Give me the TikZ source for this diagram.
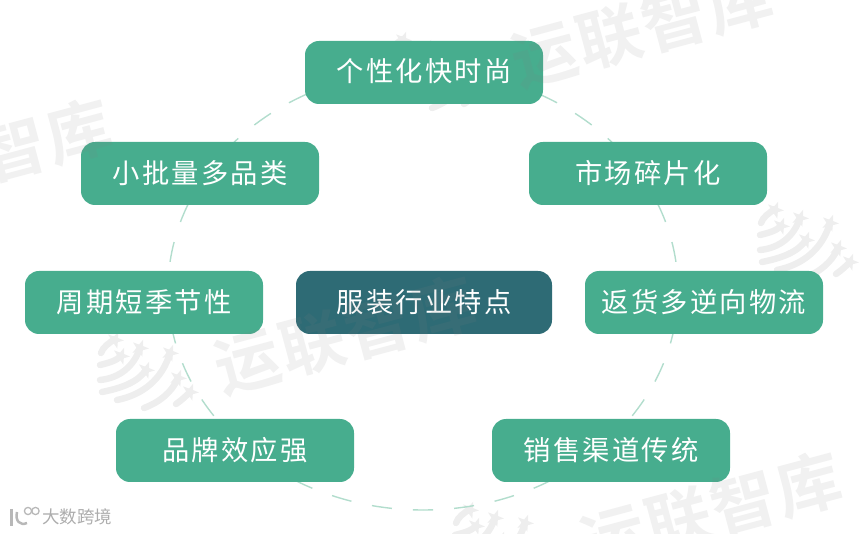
\documentclass[tikz,border=0pt]{standalone}
\usepackage{fontspec}
\setmainfont{Noto Sans CJK SC}[LetterSpace=8]
\newfontfamily\wmfont{Noto Sans CJK SC Bold}[LetterSpace=4]
\newfontfamily\wmbold{Noto Sans CJK SC}
\definecolor{gr}{HTML}{47AD8E}
\definecolor{dk}{HTML}{2E6B75}
\definecolor{lg}{HTML}{B2DDCD}
\definecolor{wmc}{HTML}{EEEEEE}
\tikzset{
  box/.style={rounded corners=14pt,fill=#1,text=white,minimum height=63pt,minimum width=238pt,inner sep=0pt,font=\fontsize{27.3}{30}\selectfont},
  wm/.style={text=black!50,opacity=0.115,rotate=15,font=\fontsize{65}{68}\wmfont,inner sep=0pt},
  swirl/.style={draw=wmc,line width=6.5pt,line cap=round},
  ring/.style={lg,line width=1.4pt,dash pattern=on 20.2pt off 21pt,dash phase=10.1pt}
}
\newcommand{\up}[2]{\raisebox{#1pt}{#2}}
\newcommand{\wmstar}[2]{%
  \fill[wmc] (#1,#2) +(75:9) -- +(111:3.6) -- +(147:9) -- +(183:3.6) -- +(219:9) -- +(255:3.6) -- +(291:9) -- +(327:3.6) -- +(3:9) -- +(39:3.6) -- cycle;}
\newcommand{\logomark}[2]{%
  \begin{scope}[shift={(#1,#2)}]
    \draw[swirl] (21,33) .. controls (23,27) and (29,23) .. (35,19);
    \draw[swirl] (20,45) .. controls (28,43) and (36,41) .. (41,36);
    \draw[swirl] (20,60) .. controls (40,58) and (54,46) .. (60,28);
    \draw[swirl] (22,72) .. controls (42,68) and (58,62) .. (66,50);
    \draw[swirl] (37,80) .. controls (62,75) and (82,60) .. (90,33);
    \draw[swirl] (64,88) .. controls (80,82) and (92,72) .. (98,58);
    \draw[swirl] (96,84) .. controls (102,80) and (106,76) .. (110,72);
    \wmstar{35}{20}\wmstar{41}{36}\wmstar{60}{28}\wmstar{66}{50}\wmstar{90}{33}\wmstar{98}{58}\wmstar{110}{72}
  \end{scope}}
\begin{document}
\begin{tikzpicture}[x=1pt,y=-1pt]
\useasboundingbox (0,0) rectangle (860,534);
\logomark{368}{20}
\logomark{740}{190}
\logomark{80}{320}
\logomark{435}{490}
\draw[ring] (423,510) arc[start angle=90,end angle=270,x radius=255,y radius=220];
\draw[ring] (423,510) arc[start angle=90,end angle=-90,x radius=255,y radius=220];
\node[box=gr] (top) at (424,72.5) {\up{5}{个性化快时尚}};
\node[box=gr] (tl) at (200,173.5) {\up{2}{小批量多品类}};
\node[box=gr] (tr) at (648,173.5) {\up{2}{市场碎片化}};
\node[box=gr] (ml) at (144,302.5) {\up{2}{周期短季节性}};
\node[box=dk,minimum width=256pt] (c) at (424,302.5) {\up{2}{服装行业特点}};
\node[box=gr] (mr) at (704,302.5) {\up{2}{返货多逆向物流}};
\node[box=gr] (bl) at (235,450.5) {\up{2}{品牌效应强}};
\node[box=gr] (br) at (611,450.5) {\up{2}{销售渠道传统}};
% watermarks
\node[wm] (w1) at (642,28) {运联智库};
\node[wm] (w2) at (46,140) {智库};
\node[wm] (w3) at (345,335) {运联智库};
\node[wm] (w4) at (711,511) {运联智库};
% corner mark
\node[text=black!32,font=\fontsize{17.5}{18}\wmbold,inner sep=0pt,anchor=west] (mark) at (42,517) {大数跨境};
\draw[black!28,line width=3pt] (11,509) -- (11,526);
\draw[black!28,line width=2.5pt] (17,512) .. controls (15,521) and (20,526) .. (27,523);
\draw[black!28,line width=1.3pt] (28,511) circle (3.6);
\draw[black!28,line width=1.3pt] (35.5,511) circle (3.6);
\end{tikzpicture}
\end{document}
